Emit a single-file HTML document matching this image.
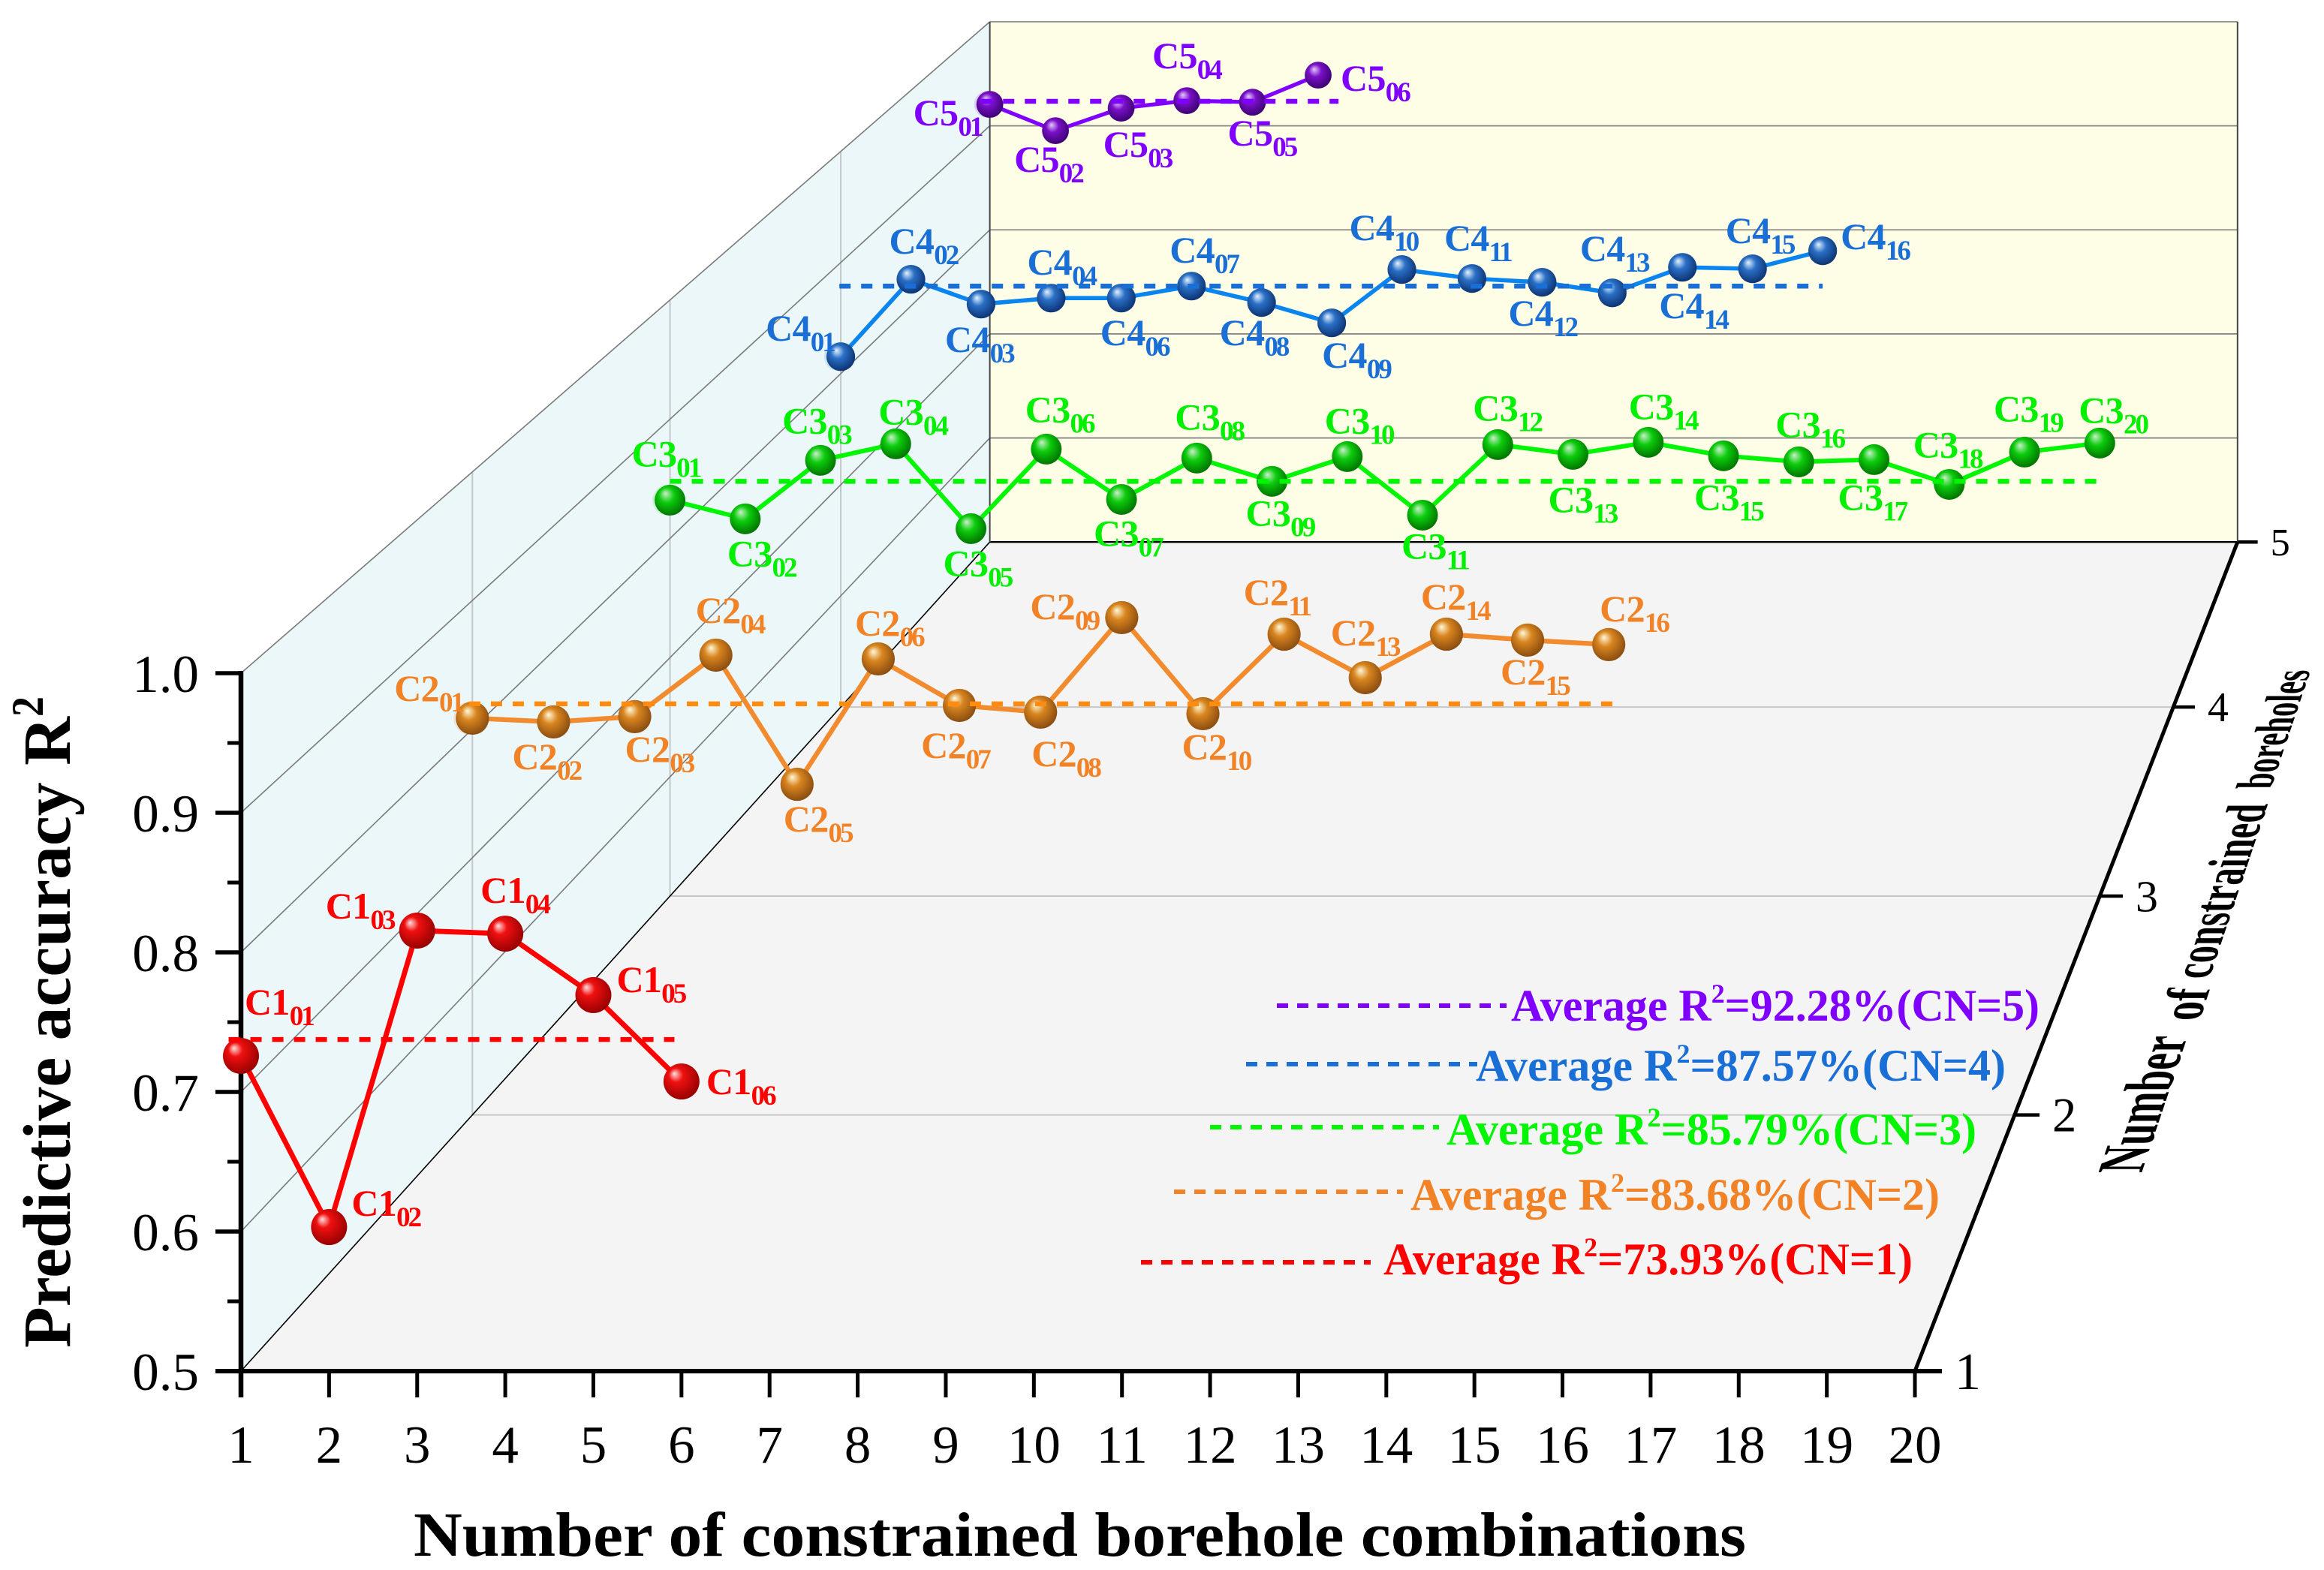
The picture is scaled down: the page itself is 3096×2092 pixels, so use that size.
<!DOCTYPE html>
<html lang="en">
<head>
<meta charset="utf-8">
<title>Predictive accuracy by number of constrained boreholes</title>
<style>
html,body{margin:0;padding:0;background:#fff}
svg{display:block}
text{font-family:"Liberation Serif",serif}
.tick{font-size:71px;fill:#000}
.bold{font-weight:bold}
.legend{font-size:60px;font-weight:bold}
.sup{font-size:36px}
.lab{font-size:50px;font-weight:bold;letter-spacing:-.7px}
.lab .sub{font-size:37px;letter-spacing:-3px}
</style>
</head>
<body>
<svg id="chart" xmlns="http://www.w3.org/2000/svg" width="3096" height="2092" viewBox="0 0 3096 2092">
  <defs>
    <radialGradient id="g0" cx=".45" cy=".42" r=".62" fx=".3" fy=".28"><stop offset="0" stop-color="#ffe0e0"/><stop offset=".32" stop-color="#f01010"/><stop offset="1" stop-color="#900000"/></radialGradient>
    <radialGradient id="g1" cx=".45" cy=".42" r=".62" fx=".35" fy=".28"><stop offset="0" stop-color="#fff8d8"/><stop offset=".38" stop-color="#d9851f"/><stop offset="1" stop-color="#84480f"/></radialGradient>
    <radialGradient id="g2" cx=".45" cy=".42" r=".62" fx=".35" fy=".28"><stop offset="0" stop-color="#c8f0c8"/><stop offset=".4" stop-color="#0ccc0c"/><stop offset="1" stop-color="#006c00"/></radialGradient>
    <radialGradient id="g3" cx=".45" cy=".42" r=".62" fx=".35" fy=".28"><stop offset="0" stop-color="#e4f2ff"/><stop offset=".38" stop-color="#2a70c6"/><stop offset="1" stop-color="#0a2e6c"/></radialGradient>
    <radialGradient id="g4" cx=".45" cy=".42" r=".62" fx=".35" fy=".28"><stop offset="0" stop-color="#e4c8ff"/><stop offset=".38" stop-color="#7a10c8"/><stop offset="1" stop-color="#38006c"/></radialGradient>
  </defs>
  <g id="planes"></g>
  <g id="axes"></g>
  <g id="series"></g>

  <text class="bold" x="551" y="2073" font-size="84" textLength="1775" lengthAdjust="spacingAndGlyphs">Number of constrained borehole combinations</text>
  <text class="bold" transform="translate(93,1796) rotate(-90)" font-size="90" textLength="841" lengthAdjust="spacingAndGlyphs">Predictive accuracy R</text>
  <text class="bold" transform="translate(57,955) rotate(-90)" font-size="60" textLength="27" lengthAdjust="spacingAndGlyphs">2</text>

  <g class="bold">
    <text transform="matrix(0.319 -0.948 1 0 2853 1563)" font-size="88" textLength="193" lengthAdjust="spacingAndGlyphs">Number</text>
    <text transform="matrix(0.319 -0.948 1 0 2930 1360)" font-size="80" textLength="46" lengthAdjust="spacingAndGlyphs">of</text>
    <text transform="matrix(0.319 -0.948 1 0 2943 1304)" font-size="76" textLength="246" lengthAdjust="spacingAndGlyphs">constrained</text>
    <text transform="matrix(0.319 -0.948 1 0 3025 1051)" font-size="68" textLength="167" lengthAdjust="spacingAndGlyphs">boreholes</text>
  </g>

  <g>
    <line x1="1701" x2="2007" y1="1340" y2="1340" stroke="#8000ff" stroke-width="6" stroke-dasharray="15 12"/>
    <text class="legend" x="2013" y="1360" fill="#8000ff" textLength="704" lengthAdjust="spacingAndGlyphs">Average R<tspan class="sup" dy="-24">2</tspan><tspan dy="24">=92.28%(CN=5)</tspan></text>
    <line x1="1660" x2="1968" y1="1418" y2="1418" stroke="#1a6fd6" stroke-width="6" stroke-dasharray="15 12"/>
    <text class="legend" x="1966" y="1440" fill="#1a6fd6" textLength="706" lengthAdjust="spacingAndGlyphs">Average R<tspan class="sup" dy="-24">2</tspan><tspan dy="24">=87.57%(CN=4)</tspan></text>
    <line x1="1612" x2="1917" y1="1502" y2="1502" stroke="#00f500" stroke-width="6" stroke-dasharray="15 12"/>
    <text class="legend" x="1927" y="1525" fill="#00f500" textLength="706" lengthAdjust="spacingAndGlyphs">Average R<tspan class="sup" dy="-24">2</tspan><tspan dy="24">=85.79%(CN=3)</tspan></text>
    <line x1="1564" x2="1869" y1="1588" y2="1588" stroke="#f28226" stroke-width="6" stroke-dasharray="15 12"/>
    <text class="legend" x="1879" y="1612" fill="#f28226" textLength="705" lengthAdjust="spacingAndGlyphs">Average R<tspan class="sup" dy="-24">2</tspan><tspan dy="24">=83.68%(CN=2)</tspan></text>
    <line x1="1520" x2="1826" y1="1682" y2="1682" stroke="#ff0000" stroke-width="6" stroke-dasharray="15 12"/>
    <text class="legend" x="1843" y="1698" fill="#ff0000" textLength="705" lengthAdjust="spacingAndGlyphs">Average R<tspan class="sup" dy="-24">2</tspan><tspan dy="24">=73.93%(CN=1)</tspan></text>
  </g>
</svg>
<script>
const xTickLabels = ['1','2','3','4','5','6','7','8','9','10','11','12','13','14','15','16','17','18','19','20'];
const yTickValues = [0.5,0.6,0.7,0.8,0.9,1.0];
const yMinorValues = [0.55,0.65,0.75,0.85,0.95];
const zTickValues = [1,2,3,4,5];
const seriesNames = ['C1','C2','C3','C4','C5'];
const c1Values = [0.7258,0.6032,0.8156,0.8134,0.7694,0.7075];
const c2Values = [0.8085,0.8056,0.8097,0.8575,0.7571,0.8546,0.8184,0.8132,0.8867,0.812,0.8738,0.84,0.8738,0.8692,0.8657];
const c3Values = [0.8321,0.8164,0.8655,0.8793,0.8082,0.8749,0.8327,0.8674,0.8479,0.8686,0.8195,0.8787,0.8705,0.8806,0.8693,0.8642,0.8661,0.8453,0.8724,0.88];
const c4Values = [0.8153,0.8849,0.8626,0.868,0.868,0.8788,0.864,0.8457,0.8937,0.8856,0.8822,0.8727,0.8957,0.8944,0.9106];
const c5Values = [0.9206,0.8953,0.917,0.9242,0.9227,0.9487];
const averageValues = [0.7376,0.8196,0.8479,0.8788,0.9235];
const averageFrom = [0.86,0.96,1,0.98,0.87];
const averageTo = [5.92,15.05,19.96,15,6.31];
const lineColors = ['#ff0000','#f28a2e','#00f500','#0a84ee','#8000ff'];
const dashColors = ['#ff0000','#ff8c10','#00f500','#1a6fd6','#8000ff'];
const labelColors = ['#ff0000','#f28226','#00f000','#1a6fd6','#8000ff'];
const allValues = [c1Values,c2Values,c3Values,c4Values,c5Values];

/* Perspective axis functions */
const depthScale = z => 1 / (1 + 0.0854 * (z - 1));
const frontX = x => 321 + (x - 1) * 117.37;
const frontY = v => 1827 - (v - 0.5) * 1860;
const px = (x, z) => 4239 + (frontX(x) - 4239) * depthScale(z);
const py = (v, z) => -2512 + (frontY(v) + 2512) * depthScale(z);

const NS = 'http://www.w3.org/2000/svg';
function mk(tag, attrs, parent) {
  const el = document.createElementNS(NS, tag);
  for (const k in attrs) el.setAttribute(k, attrs[k]);
  parent.appendChild(el);
  return el;
}
const pts = a => a.map(p => p[0].toFixed(1) + ',' + p[1].toFixed(1)).join(' ');
const planes = document.getElementById('planes');
const axes = document.getElementById('axes');
const seriesG = document.getElementById('series');

/* Planes */
const floorPlane = mk('polygon', {points: pts([[px(1,1),py(.5,1)],[px(20,1),py(.5,1)],[px(20,5),py(.5,5)],[px(1,5),py(.5,5)]]), fill:'#f4f4f4'}, planes);


const sideWall = mk('polygon', {points: pts([[px(1,1),py(1,1)],[px(1,5),py(1,5)],[px(1,5),py(.5,5)],[px(1,1),py(.5,1)]]), fill:'#ebf7f8'}, planes);


const backWall = mk('polygon', {points: pts([[px(1,5),py(1,5)],[px(20,5),py(1,5)],[px(20,5),py(.5,5)],[px(1,5),py(.5,5)]]), fill:'#fefee6'}, planes);



zTickValues.slice(1, 4).forEach(z => {
  const fl = mk('line', {x1:px(1,z), x2:px(20,z), y1:py(.5,z), y2:py(.5,z), stroke:'#c8c8c8', 'stroke-width':2}, planes);
  
  
  const vl = mk('line', {x1:px(1,z), x2:px(1,z), y1:py(1,z), y2:py(.5,z), stroke:'#c4c8ca', 'stroke-width':2}, planes);
  
  
});
yTickValues.forEach(v => {
  const wl = mk('line', {x1:px(1,1), y1:py(v,1), x2:px(1,5), y2:py(v,5), stroke: v === 0.5 ? '#000' : '#7a7a7a', 'stroke-width':1.6}, planes);
  
  
  const bl = mk('line', {x1:px(1,5), y1:py(v,5), x2:px(20,5), y2:py(v,5), stroke: v === 0.5 ? '#000' : '#888', 'stroke-width': v === 0.5 ? 2.4 : 1.8}, planes);
  
  
});
const backEdgeL = mk('line', {x1:px(1,5), y1:py(1,5), x2:px(1,5), y2:py(.5,5), stroke:'#444', 'stroke-width':2}, planes);


const backEdgeR = mk('line', {x1:px(20,5), y1:py(1,5), x2:px(20,5), y2:py(.5,5), stroke:'#444', 'stroke-width':2}, planes);



/* Y axis */
const yAxis = mk('line', {x1:px(1,1), x2:px(1,1), y1:py(1,1)-3, y2:py(.5,1)+35, stroke:'#000', 'stroke-width':6.5}, axes);


yTickValues.forEach(v => {
  const t = mk('line', {x1:px(1,1)-34, x2:px(1,1), y1:py(v,1), y2:py(v,1), stroke:'#000', 'stroke-width':5.5}, axes);
  
  
  const l = mk('text', {x:265, y:py(v,1)+25, 'text-anchor':'end', class:'tick'}, axes);
  
  
  l.textContent = v.toFixed(1);
});
yMinorValues.forEach(v => {
  const t = mk('line', {x1:px(1,1)-18, x2:px(1,1), y1:py(v,1), y2:py(v,1), stroke:'#000', 'stroke-width':5}, axes);
  
  
});

/* X axis */
const xAxis = mk('line', {x1:px(1,1)-34, x2:px(20,1)+36, y1:py(.5,1), y2:py(.5,1), stroke:'#000', 'stroke-width':6}, axes);


xTickLabels.forEach((s, i) => {
  const x = px(i + 1, 1);
  const t = mk('line', {x1:x, x2:x, y1:py(.5,1), y2:py(.5,1)+35, stroke:'#000', 'stroke-width':5}, axes);
  
  
  const l = mk('text', {x:x, y:1949, 'text-anchor':'middle', class:'tick'}, axes);
  
  
  l.textContent = s;
});

/* Depth axis */
const zAxis = mk('line', {x1:px(20,1), y1:py(.5,1), x2:px(20,5), y2:py(.5,5), stroke:'#000', 'stroke-width':5}, axes);


zTickValues.forEach(z => {
  const s = depthScale(z), x = px(20, z), y = py(.5, z);
  const t = mk('line', {x1:x, x2:x + 36 * s, y1:y, y2:y, stroke:'#000', 'stroke-width':4.5}, axes);
  
  
  const l = mk('text', {x:x + 36 * s + 17, y:y + 24 * s, class:'tick', style:'font-size:' + (70 * s).toFixed(1) + 'px'}, axes);
  
  
  l.textContent = String(z);
});

/* Series, back to front */
const labelLayers = [];
for (let i = 4; i >= 0; i--) {
  const z = i + 1, s = depthScale(z), vals = allValues[i];
  const layer = mk('g', {}, seriesG);
  
  
  const poly = mk('polyline', {points: pts(vals.map((v, k) => [px(k + 1, z), py(v, z)])), fill:'none', stroke:lineColors[i], 'stroke-width':6.5 * s + .4, 'stroke-linejoin':'round'}, layer);
  
  
  vals.forEach((v, k) => {
    if (k === 0 && i > 0) {
      const ghost = mk('circle', {cx:px(1, z) - 3, cy:py(v, z), r:24 * s, fill:lineColors[i], opacity:.16}, layer);
      
      
    }
    const c = mk('circle', {cx:px(k + 1, z), cy:py(v, z), r:24 * s, fill:'url(#g' + i + ')'}, layer);
    
    
  });
  const avg = mk('line', {x1:px(averageFrom[i], z), x2:px(averageTo[i], z), y1:py(averageValues[i], z), y2:py(averageValues[i], z), stroke:dashColors[i], 'stroke-width':6.5, 'stroke-dasharray':'15 14'}, layer);
  
  
  labelLayers[i] = layer;
}

function note(i, k, sub, dx, dy) {
  const z = i + 1;
  const t = mk('text', {x:px(k + 1, z) + dx, y:py(allValues[i][k], z) + dy, class:'lab', fill:labelColors[i]}, labelLayers[i]);
  
  
  t.appendChild(document.createTextNode(seriesNames[i]));
  const u = mk('tspan', {class:'sub', dy:14}, t);
  u.textContent = sub;
}
note(0,0,'01',5,-55); note(0,1,'02',30,-15); note(0,2,'03',-122,-16); note(0,3,'04',-33,-41); note(0,4,'05',31,-4); note(0,5,'06',33,17);

note(1,0,'01',-104,-23); note(1,1,'02',-55,63); note(1,2,'03',-13,60); note(1,3,'04',-27,-43); note(1,4,'05',-18,63);
note(1,5,'06',-31,-31); note(1,6,'07',-51,70); note(1,7,'08',-12,72); note(1,8,'09',-122,2); note(1,9,'10',-28,61);
note(1,10,'11',-54,-39); note(1,11,'13',-46,-43); note(1,12,'14',-34,-33); note(1,13,'15',-36,59); note(1,14,'16',-12,-31);

note(2,0,'01',-51,-45); note(2,1,'02',-24,63); note(2,2,'03',-51,-36); note(2,3,'04',-23,-26); note(2,4,'05',-37,63);
note(2,5,'06',-28,-36); note(2,6,'07',-37,62); note(2,7,'08',-29,-38); note(2,8,'09',-35,59); note(2,9,'10',-30,-31);
note(2,10,'11',-28,58); note(2,11,'12',-33,-32); note(2,12,'13',-33,77); note(2,13,'14',-26,-31); note(2,14,'15',-39,72);
note(2,15,'16',-31,-33); note(2,16,'17',-48,67); note(2,17,'18',-48,-36); note(2,18,'19',-41,-41); note(2,19,'20',-28,-27);

note(3,0,'01',-100,-21); note(3,1,'02',-29,-34); note(3,2,'03',-48,64); note(3,3,'04',-32,-31); note(3,4,'06',-28,63);
note(3,5,'07',-29,-31); note(3,6,'08',-56,57); note(3,7,'09',-13,60); note(3,8,'10',-70,-39); note(3,9,'11',-37,-37);
note(3,10,'12',-45,58); note(3,11,'13',-43,-42); note(3,12,'14',-31,68); note(3,13,'15',-36,-34); note(3,14,'16',24,-2);

note(4,0,'01',-102,28); note(4,1,'02',-55,55); note(4,2,'03',-24,65); note(4,3,'04',-46,-43); note(4,4,'05',-33,58); note(4,5,'06',30,21);
</script>
</body>
</html>
